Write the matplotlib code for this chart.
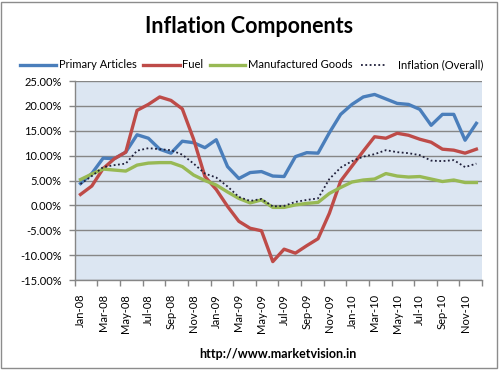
import matplotlib
matplotlib.use("Agg")
import matplotlib.pyplot as plt
from matplotlib.lines import Line2D
from matplotlib.patches import Rectangle
import numpy as np

months = [
    "Jan-08", "Feb-08", "Mar-08", "Apr-08", "May-08", "Jun-08", "Jul-08", "Aug-08", "Sep-08",
    "Oct-08", "Nov-08", "Dec-08", "Jan-09", "Feb-09", "Mar-09", "Apr-09", "May-09", "Jun-09",
    "Jul-09", "Aug-09", "Sep-09", "Oct-09", "Nov-09", "Dec-09", "Jan-10", "Feb-10", "Mar-10",
    "Apr-10", "May-10", "Jun-10", "Jul-10", "Aug-10", "Sep-10", "Oct-10", "Nov-10", "Dec-10",
]

# values in percent
primary = [4.4, 6.4, 9.5, 9.4, 10.7, 14.2, 13.5, 11.3, 10.5, 12.9, 12.6, 11.6,
           13.2, 7.8, 5.4, 6.6, 6.8, 5.9, 5.8, 9.8, 10.6, 10.5, 14.6, 18.3,
           20.3, 21.8, 22.3, 21.4, 20.5, 20.3, 19.3, 16.1, 18.3, 18.3, 13.1, 16.5]
fuel = [2.2, 3.9, 7.4, 9.4, 10.7, 19.1, 20.3, 21.8, 21.1, 19.4, 13.3, 5.8,
        3.2, -0.2, -3.2, -4.6, -5.1, -11.3, -8.8, -9.6, -8.1, -6.7, -1.6, 4.9,
        7.9, 10.9, 13.8, 13.5, 14.5, 14.1, 13.3, 12.7, 11.3, 11.1, 10.5, 11.3]
manufactured = [5.2, 6.3, 7.3, 7.1, 6.9, 8.1, 8.5, 8.6, 8.6, 7.8, 6.1, 5.0,
                4.1, 2.7, 1.4, 0.5, 1.1, -0.4, -0.4, 0.1, 0.4, 0.6, 2.4, 3.6,
                4.7, 5.1, 5.3, 6.4, 5.9, 5.7, 5.8, 5.3, 4.8, 5.1, 4.6, 4.6]
overall = [4.3, 5.9, 7.7, 8.1, 8.4, 11.0, 11.5, 11.3, 11.1, 10.2, 8.4, 6.4,
           5.6, 3.8, 1.7, 0.9, 1.3, -0.2, -0.1, 0.7, 1.1, 1.4, 5.3, 7.6,
           8.9, 9.8, 10.3, 11.1, 10.7, 10.5, 10.1, 9.0, 8.9, 9.1, 7.7, 8.4]

series_labels = ["Primary Articles", "Fuel", "Manufactured Goods", "Inflation (Overall)"]
series_colors = ["#4A7EBB", "#BE4B48", "#98B954", "#1F1F3A"]

FONT = "Lato"
GRID = "#868686"

fig = plt.figure(figsize=(4.99, 3.70), dpi=100)
fig.patch.set_facecolor("white")
fig.add_artist(Rectangle((0.003, 0.005), 0.992, 0.99, transform=fig.transFigure,
                         fill=False, edgecolor="#8C8C8C", linewidth=1.0))

ax = fig.add_axes([0.150, 0.2432, 0.816, 0.5378])
ax.set_facecolor("#DCE6F2")

x = np.arange(len(months))
data = [primary, fuel, manufactured, overall]
for vals, color, label in zip(data, series_colors, series_labels):
    if label.startswith("Inflation"):
        ax.plot(x, vals, color=color, lw=1.3, ls=(0, (1, 1.4)), label=label, zorder=4)
    else:
        ax.plot(x, vals, color=color, lw=2.4, solid_joinstyle="round", label=label, zorder=3)

ax.set_xlim(-0.5, len(months) - 0.5)
ax.set_ylim(-15, 25)
yt = np.arange(-15, 26, 5)
ax.set_yticks(yt)
ax.set_yticklabels([f"{v:.2f}%" for v in yt], fontsize=8, family=FONT)
ax.yaxis.grid(True, color=GRID, lw=1.0)
ax.set_axisbelow(True)

ax.set_xticks(np.arange(-0.5, len(months), 2))
ax.set_xticklabels([])
ax.set_xticks(x[::2], minor=True)
ax.set_xticklabels(months[::2], minor=True, rotation=90, fontsize=8, family=FONT)
ax.tick_params(axis="x", which="minor", length=0, pad=10)
ax.tick_params(axis="x", which="major", length=4.5, color=GRID, width=1.0)
ax.tick_params(axis="y", length=4.5, color=GRID, width=1.0, pad=5)

for side in ["top", "right"]:
    ax.spines[side].set_visible(False)
for side in ["left", "bottom"]:
    ax.spines[side].set_color(GRID)
    ax.spines[side].set_linewidth(1.0)

fig.text(0.500, 0.928, "Inflation Components", ha="center", va="center",
         fontsize=15.5, fontweight="bold", family=FONT)

# legend laid out like the Excel one
W, H = 499.0, 370.0
leg_y = 1 - 65 / H
handles = [(20, 55.7, 59), (143, 180, 182), (210, 245, 248), (361, 387, 398)]
for (x0, x1, tx), color, label in zip(handles, series_colors, series_labels):
    if label.startswith("Inflation"):
        ln = Line2D([x0 / W, x1 / W], [leg_y, leg_y], transform=fig.transFigure,
                    color=color, lw=1.3, ls=(0, (1, 1.4)))
    else:
        ln = Line2D([x0 / W, x1 / W], [leg_y, leg_y], transform=fig.transFigure,
                    color=color, lw=2.4)
    fig.add_artist(ln)
    fig.text(tx / W, leg_y, label, ha="left", va="center", fontsize=8, family=FONT)

fig.text(278 / W, 1 - 354 / H, "http://www.marketvision.in", ha="center", va="center",
         fontsize=9, fontweight="bold", family=FONT)

fig.savefig("out.png", dpi=100)
